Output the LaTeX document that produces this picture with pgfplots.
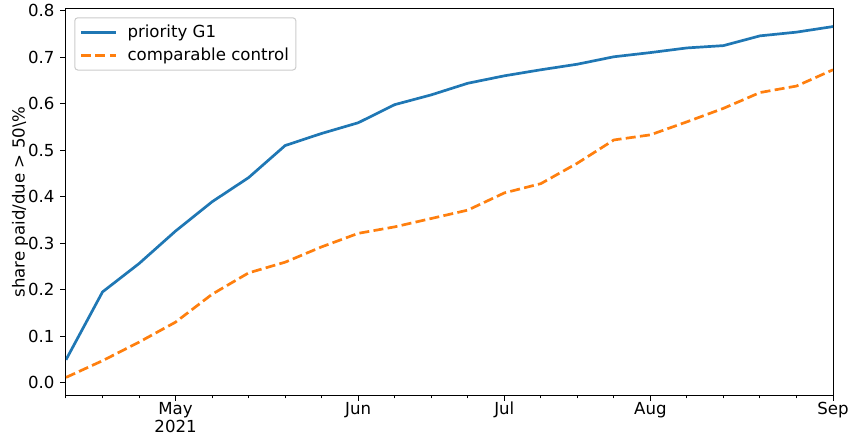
\documentclass[border=0pt]{standalone}
\usepackage{fontspec}
\setmainfont{DejaVu Sans}
\usepackage{pgfplots}
\pgfplotsset{compat=1.18}
\definecolor{tabblue}{HTML}{1F77B4}
\definecolor{taborange}{HTML}{FF7F0E}
\begin{document}
\fontsize{16.6}{19}\selectfont
\begin{tikzpicture}
\begin{axis}[
  scale only axis, width=767pt, height=386pt,
  xmin=0, xmax=21, ymin=-0.0268, ymax=0.8038,
  axis line style={black, line width=1pt},
  tick align=outside,
  xtick pos=bottom, ytick pos=left,
  major tick length=5.8pt, minor tick length=3.3pt,
  every tick/.style={black, line width=1pt},
  xtick={3,8,12,16,21},
  xticklabels={{May\\2021},Jun,Jul,Aug,Sep},
  xticklabel style={align=center, font={\fontsize{16.6}{18}\selectfont}, inner sep=1pt, yshift=0pt},
  minor xtick={0,1,2,3,4,5,6,7,8,9,10,11,12,13,14,15,16,17,18,19,20,21},
  ytick={0,0.1,0.2,0.3,0.4,0.5,0.6,0.7,0.8},
  yticklabel style={/pgf/number format/fixed, /pgf/number format/fixed zerofill, /pgf/number format/precision=1},
  /pgf/number format/assume math mode=true,
  ylabel={share paid/due > 50\textbackslash\%},
  ylabel style={at={(axis description cs:0,0.5)}, yshift=46pt, anchor=center},
  legend cell align=left,
  legend image code/.code={\draw[#1] (0pt,0pt) -- (35pt,0pt);},
  legend style={at={(0,1)}, anchor=north west, xshift=8.3pt, yshift=-8.3pt,
    draw=white!80!black, fill=white, fill opacity=0.8, text opacity=1,
    rounded corners=3pt, line width=1pt, inner xsep=5pt, inner ysep=5pt,
    row sep=4pt, nodes={inner sep=2pt},
    /tikz/every odd column/.append style={column sep=8pt}},
]
\addplot[tabblue, line width=2.7pt, line join=round] coordinates {
(0,0.049) (1,0.195) (2,0.256) (3,0.326) (4,0.389) (5,0.441) (6,0.510) (7,0.536)
(8,0.559) (9,0.598) (10,0.619) (11,0.644) (12,0.660) (13,0.673) (14,0.685)
(15,0.701) (16,0.710) (17,0.720) (18,0.725) (19,0.746) (20,0.754) (21,0.766)
};
\addlegendentry{priority G1}
\addplot[taborange, line width=2.7pt, line join=round, dash pattern=on 10pt off 4.3pt] coordinates {
(0,0.011) (1,0.047) (2,0.087) (3,0.130) (4,0.190) (5,0.236) (6,0.259) (7,0.292)
(8,0.321) (9,0.335) (10,0.353) (11,0.371) (12,0.408) (13,0.428) (14,0.472)
(15,0.522) (16,0.533) (17,0.561) (18,0.590) (19,0.624) (20,0.638) (21,0.673)
};
\addlegendentry{comparable control}
\end{axis}
\pgfresetboundingbox
\path ([shift={(-66pt,-41pt)}]current axis.south west) rectangle ([shift={(18pt,9pt)}]current axis.north east);
\end{tikzpicture}
\end{document}
